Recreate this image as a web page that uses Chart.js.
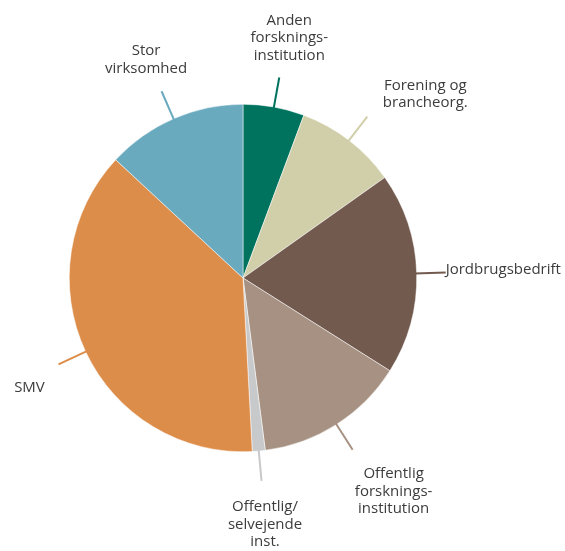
<!DOCTYPE html>
<html>
<head>
<meta charset="utf-8">
<script src="https://cdn.jsdelivr.net/npm/chart.js@4"></script>
<style>
  html, body { margin: 0; padding: 0; background: #ffffff; }
  #wrap { width: 565px; height: 551px; }
</style>
</head>
<body>
<div id="wrap"><canvas id="c" width="565" height="551"></canvas></div>
<script>
// Categories (clockwise from 12 o'clock)
const categories = [
  ["Anden", "forsknings-", "institution"],
  ["Forening og", "brancheorg."],
  ["Jordbrugsbedrift"],
  ["Offentlig", "forsknings-", "institution"],
  ["Offentlig/", "selvejende", "inst."],
  ["SMV"],
  ["Stor", "virksomhed"]
];
// Shares (%)
const shares = [5.7, 9.5, 18.8, 14.0, 1.2, 37.8, 13.1];
const colors = ["#00735f", "#d1cfa9", "#735a4f", "#a69182", "#c8c9cb", "#dd8d4a", "#6aaabf"];

// label layout: leader length beyond rim, text offset (first line centre) from line end, alignment
const labelLayout = [
  { len: 30, dx: 10, dy: -57, align: "center" },
  { len: 30, dx: 58, dy: -31, align: "center" },
  { len: 29, dx: 0, dy: -3, align: "left" },
  { len: 30, dx: 41, dy: 24, align: "center" },
  { len: 30, dx: 3.5, dy: 26, align: "center" },
  { len: 30, dx: -29, dy: 23.5, align: "center" },
  { len: 30, dx: -15.5, dy: -40, align: "center" }
];

const leaderLabels = {
  id: "leaderLabels",
  afterDatasetsDraw(chart) {
    const ctx = chart.ctx;
    const meta = chart.getDatasetMeta(0);
    ctx.save();
    meta.data.forEach((arc, i) => {
      const p = arc.getProps(["x", "y", "startAngle", "endAngle", "outerRadius"], true);
      const a = (p.startAngle + p.endAngle) / 2;
      const lay = labelLayout[i];
      const r0 = p.outerRadius - 2;
      const r1 = p.outerRadius + lay.len;
      const x0 = p.x + Math.cos(a) * r0, y0 = p.y + Math.sin(a) * r0;
      const x1 = p.x + Math.cos(a) * r1, y1 = p.y + Math.sin(a) * r1;
      ctx.strokeStyle = colors[i];
      ctx.lineWidth = 2;
      ctx.beginPath();
      ctx.moveTo(x0, y0);
      ctx.lineTo(x1, y1);
      ctx.stroke();
      ctx.fillStyle = "#3c3c3c";
      ctx.font = "15px 'Open Sans', sans-serif";
      ctx.textAlign = lay.align;
      ctx.textBaseline = "middle";
      categories[i].forEach((t, k) => {
        ctx.fillText(t, x1 + lay.dx, y1 + lay.dy + k * 17.5);
      });
    });
    ctx.restore();
  }
};

new Chart(document.getElementById("c"), {
  type: "pie",
  data: {
    labels: categories.map(c => c.join(" ")),
    datasets: [{
      data: shares,
      backgroundColor: colors,
      borderColor: "#ffffff",
      borderWidth: 0.5
    }]
  },
  options: {
    responsive: false,
    animation: false,
    layout: { padding: { left: 69, right: 148, top: 104, bottom: 99 } },
    plugins: {
      legend: { display: false },
      tooltip: { enabled: false },
      title: { display: false }
    }
  },
  plugins: [leaderLabels]
});
</script>
</body>
</html>
